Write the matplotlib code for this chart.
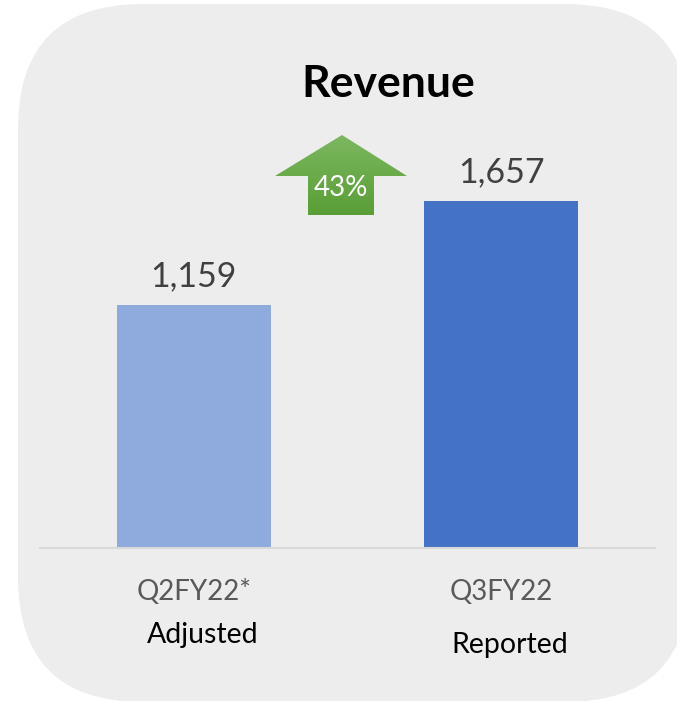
import matplotlib
matplotlib.use('Agg')
import matplotlib.pyplot as plt
import numpy as np
from matplotlib.patches import FancyBboxPatch, Polygon

# data
categories = ['Q2FY22*', 'Q3FY22']
sublabels = ['Adjusted', 'Reported']
revenue = [1159, 1657]
growth = '43%'
bar_colors = ['#8faadc', '#4472c4']

W, H = 677, 701
plt.rcParams['font.family'] = ['Lato', 'DejaVu Sans']

fig = plt.figure(figsize=(W / 100, H / 100), dpi=100)
fig.patch.set_facecolor('white')


def fx(x):
    return x / W


def fy(y):
    return 1 - y / H


# rounded grey panel (in inches so the corners stay round)
panel = FancyBboxPatch((18 / 100, (H - 702) / 100), 672 / 100, 698 / 100,
                       boxstyle='round,pad=0,rounding_size=1.25',
                       transform=fig.dpi_scale_trans, facecolor='#ededed',
                       edgecolor='none', zorder=-5)
fig.patches.append(panel)

# axes: baseline at y=548, top at y=100
ax = fig.add_axes([fx(40), fy(548), fx(655) - fx(40), fy(100) - fy(548)])
ax.set_facecolor('none')
x = np.arange(len(categories))
bars = ax.bar(x, revenue, width=0.5, color=bar_colors, zorder=2)
ax.set_xlim(-0.5, 1.5)
ax.set_ylim(0, 448 * 1657 / 347)

for s in ['top', 'right', 'left']:
    ax.spines[s].set_visible(False)
ax.spines['bottom'].set_color('#d9d9d9')
ax.spines['bottom'].set_linewidth(1.5)
ax.set_yticks([])
ax.set_xticks([])

for b, v in zip(bars, revenue):
    ax.annotate(f'{v:,}', (b.get_x() + b.get_width() / 2, v),
                xytext=(0, 19), textcoords='offset pixels',
                ha='center', va='baseline', fontsize=24.5, color='#404040')

for i, (c, s) in enumerate(zip(categories, sublabels)):
    ax.annotate(c, (i, 0), xytext=(0, -52), textcoords='offset pixels',
                ha='center', va='baseline', fontsize=20, color='#595959')
    ax.annotate(s, (i, 0), xytext=(9, -95 - 10 * i), textcoords='offset pixels',
                ha='center', va='baseline', fontsize=20.5, color='black')

fig.text(fx(388), fy(97), 'Revenue', ha='center', va='baseline',
         fontsize=32, fontweight='bold', color='black')

# green up arrow with vertical gradient
arrow_px = [(342, 135), (407, 176), (374, 176), (374, 215),
            (308, 215), (308, 176), (275, 176)]
arrow = Polygon([(fx(a), fy(b)) for a, b in arrow_px], closed=True,
                transform=fig.transFigure, facecolor='none', edgecolor='none')
gax = fig.add_axes([fx(275), fy(215), fx(407) - fx(275), fy(135) - fy(215)])
gax.set_axis_off()
top = np.array([0.49, 0.72, 0.38])
bot = np.array([0.35, 0.62, 0.21])
t = np.linspace(0, 1, 100)[:, None]
grad = (top * (1 - t) + bot * t)[:, None, :].repeat(2, axis=1)
im = gax.imshow(grad, extent=[0, 1, 0, 1], aspect='auto', origin='upper')
im.set_clip_path(arrow)
fig.text(fx(341), fy(196), growth, ha='center', va='baseline',
         fontsize=20, color='white', zorder=5)

fig.savefig('out.png', dpi=100, facecolor='white')
